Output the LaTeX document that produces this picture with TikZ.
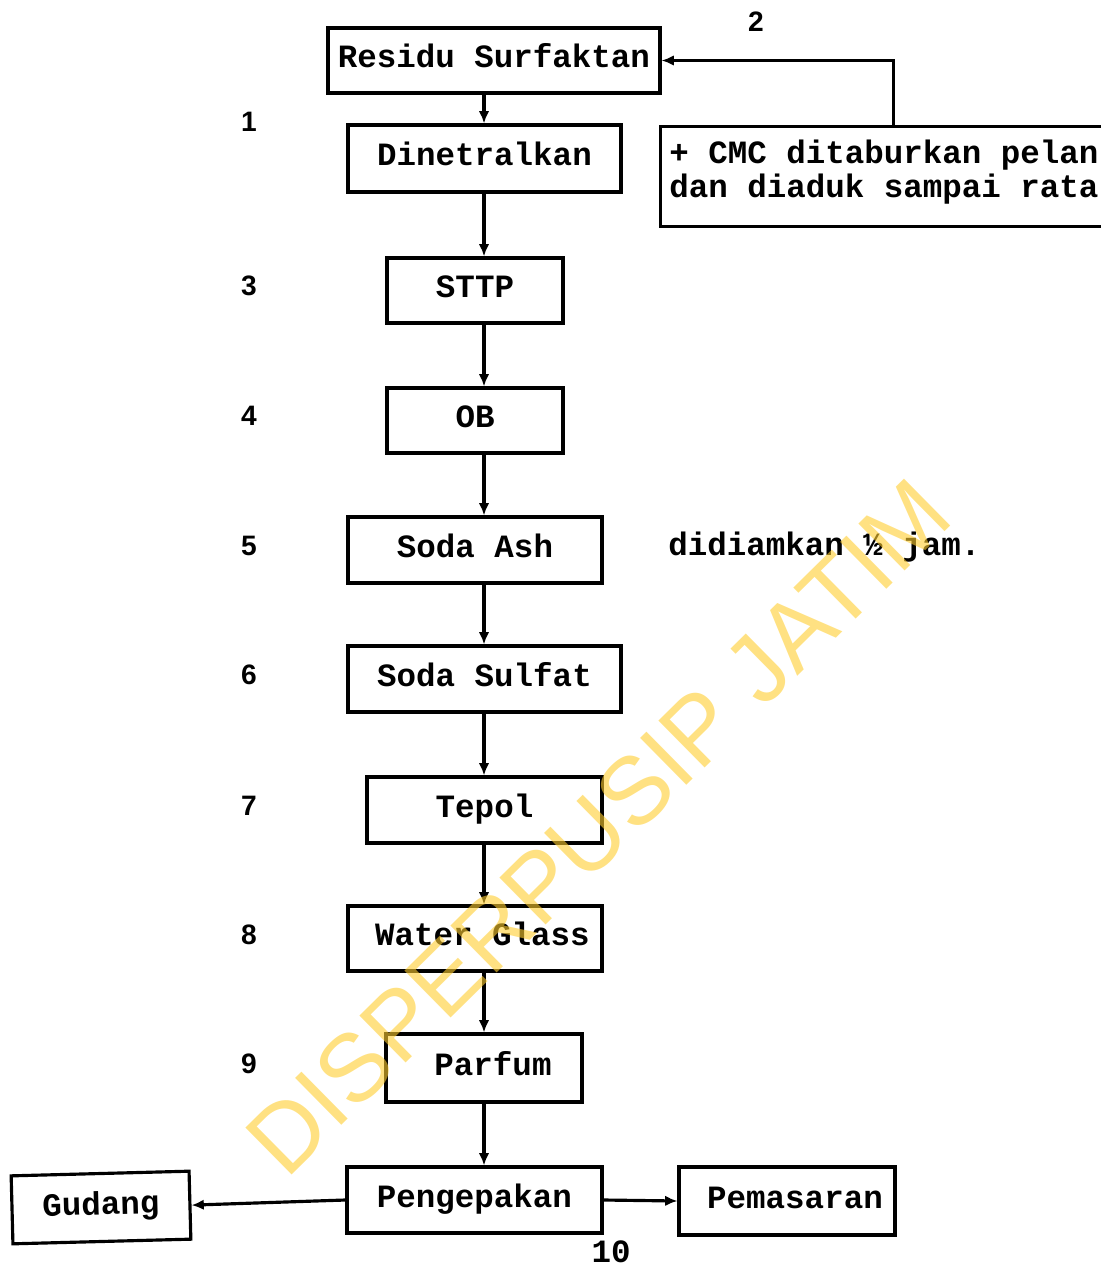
\documentclass[tikz,border=0pt]{standalone}
\usepackage{fontspec}
\usetikzlibrary{arrows.meta,calc}
\newfontfamily\boxfont{Liberation Mono}[BoldFont={Liberation Mono Bold}]
\newfontfamily\numfont{Liberation Sans}[BoldFont={Liberation Sans Bold}]
\newfontfamily\wmfont{Liberation Sans}
\definecolor{wmyellow}{RGB}{255,205,47}
\tikzset{
  box/.style={draw, line width=1.8pt, inner sep=0pt, font=\boxfont\bfseries\fontsize{18.5}{19}\selectfont, text height=12pt, text depth=4pt},
  plain/.style={font=\boxfont\bfseries\fontsize{18.5}{19}\selectfont, inner sep=0pt},
  num/.style={font=\numfont\bfseries\fontsize{16}{18}\selectfont, inner sep=0pt},
  arr/.style={line width=1.8pt, -{Latex[length=7pt,width=6pt]}}
}
\begin{document}
\begin{tikzpicture}[x=0.02cm,y=-0.02cm]
\useasboundingbox (0,0) rectangle (1101,1270);
\coordinate (axis) at (484,0);
% boxes
\node[box, minimum width=6.64cm, minimum height=1.30cm] (res) at (494,60.5) {Residu Surfaktan};
\node[box, minimum width=5.46cm, minimum height=1.34cm] (din) at (484.5,158.5) {Dinetralkan};
\node[box, minimum width=8.88cm, minimum height=2.00cm, anchor=north west] (cmc) at (659,125) {};
\node[plain, anchor=west, align=left, font=\boxfont\bfseries\fontsize{18.5}{19}\selectfont] (cmctxt) at (669,172) {+ CMC ditaburkan pelan\\dan diaduk sampai rata};
\node[box, minimum width=3.52cm, minimum height=1.30cm] (sttp) at (475,290.5) {STTP};
\node[box, minimum width=3.52cm, minimum height=1.30cm] (ob) at (475,420.5) {OB};
\node[box, minimum width=5.08cm, minimum height=1.32cm] (ash) at (475,550) {Soda Ash};
\node[plain, anchor=west] (diam) at (668,547) {didiamkan ½ jam.};
\node[box, minimum width=5.46cm, minimum height=1.32cm] (sulfat) at (484.5,679) {Soda Sulfat};
\node[box, minimum width=4.70cm, minimum height=1.32cm] (tepol) at (484.5,810) {Tepol};
\node[box, minimum width=5.08cm, minimum height=1.30cm] (water) at (475,938.5) {\hspace*{0.3cm}Water Glass};
\node[box, minimum width=3.92cm, minimum height=1.36cm] (parfum) at (484,1068) {\hspace*{0.36cm}Parfum};
\node[box, minimum width=5.10cm, minimum height=1.32cm] (pack) at (474.5,1200) {Pengepakan};
\node[box, minimum width=3.56cm, minimum height=1.36cm, rotate=1.5] (gudang) at (101,1207.5) {Gudang};
\node[box, minimum width=4.32cm, minimum height=1.36cm] (pem) at (787,1201) {\hspace*{0.32cm}Pemasaran};
% numbers
\node[num] (n1) at (249,122) {1};
\node[num] (n2) at (756,22) {2};
\node[num] (n3) at (249,286) {3};
\node[num] (n4) at (249,416) {4};
\node[num] (n5) at (249,546) {5};
\node[num] (n6) at (249,675) {6};
\node[num] (n7) at (249,806) {7};
\node[num] (n8) at (249,935) {8};
\node[num] (n9) at (249,1064) {9};
\node[plain] (n10) at (611,1252) {10};
% connectors
\draw[arr] (axis |- res.south) -- (axis |- din.north);
\draw[arr] (axis |- din.south) -- (axis |- sttp.north);
\draw[arr] (axis |- sttp.south) -- (axis |- ob.north);
\draw[arr] (axis |- ob.south) -- (axis |- ash.north);
\draw[arr] (axis |- ash.south) -- (axis |- sulfat.north);
\draw[arr] (axis |- sulfat.south) -- (axis |- tepol.north);
\draw[arr] (axis |- tepol.south) -- (axis |- water.north);
\draw[arr] (axis |- water.south) -- (axis |- parfum.north);
\draw[arr] (axis |- parfum.south) -- (axis |- pack.north);
\draw[arr] ([xshift=0.22cm]cmc.north) |- (res.east);
\draw[arr] (pack.west) -- (gudang.east);
\draw[arr] (pack.east) -- (pem.west);
% watermark
\node[font=\wmfont\fontsize{54.5}{60}\selectfont, text=wmyellow, opacity=0.6, rotate=44.6, inner sep=0pt] (wm) at (598,827) {DISPERPUSIP JATIM};
\end{tikzpicture}
\end{document}
